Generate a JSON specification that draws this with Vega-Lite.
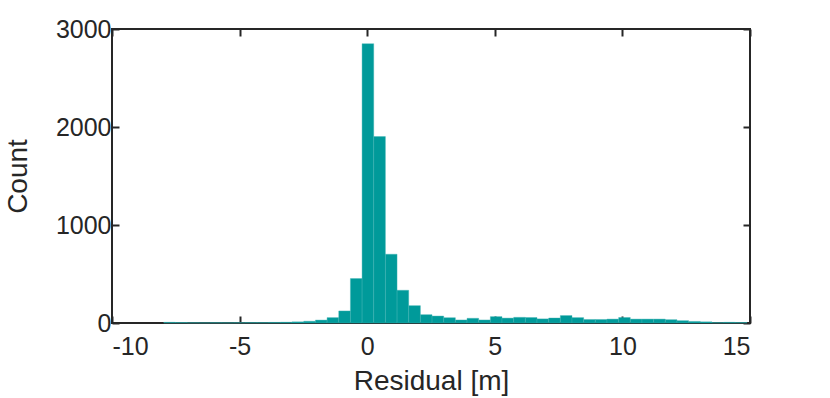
{
  "$schema": "https://vega.github.io/schema/vega-lite/v6.json",
  "width": 638,
  "height": 294,
  "autosize": {"type": "none"},
  "padding": {"left": 112, "top": 29, "right": 80, "bottom": 75},
  "background": "white",
  "config": {
    "view": {"stroke": "#262626", "strokeWidth": 2},
    "axis": {
      "labelFont": "Liberation Sans",
      "titleFont": "Liberation Sans",
      "labelFontSize": 25,
      "titleFontSize": 28,
      "labelColor": "#262626",
      "titleColor": "#262626",
      "titleFontWeight": "normal",
      "grid": false,
      "domain": false,
      "tickColor": "#262626",
      "tickWidth": 2,
      "tickSize": -7,
      "labelExpr": "'' + datum.value"
    }
  },
  "data": {
    "values": [
      {"x0": -7.970, "x1": -7.513, "count": 7},
      {"x0": -7.513, "x1": -7.056, "count": 5},
      {"x0": -7.056, "x1": -6.599, "count": 3},
      {"x0": -6.599, "x1": -6.142, "count": 2},
      {"x0": -6.142, "x1": -5.685, "count": 3},
      {"x0": -5.685, "x1": -5.228, "count": 2},
      {"x0": -5.228, "x1": -4.771, "count": 3},
      {"x0": -4.771, "x1": -4.314, "count": 4},
      {"x0": -4.314, "x1": -3.857, "count": 4},
      {"x0": -3.857, "x1": -3.400, "count": 6},
      {"x0": -3.400, "x1": -2.943, "count": 8},
      {"x0": -2.943, "x1": -2.486, "count": 12},
      {"x0": -2.486, "x1": -2.029, "count": 18},
      {"x0": -2.029, "x1": -1.572, "count": 30},
      {"x0": -1.572, "x1": -1.115, "count": 55},
      {"x0": -1.115, "x1": -0.658, "count": 123},
      {"x0": -0.658, "x1": -0.201, "count": 454},
      {"x0": -0.201, "x1": 0.256, "count": 2850},
      {"x0": 0.256, "x1": 0.713, "count": 1902},
      {"x0": 0.713, "x1": 1.170, "count": 702},
      {"x0": 1.170, "x1": 1.627, "count": 334},
      {"x0": 1.627, "x1": 2.084, "count": 177},
      {"x0": 2.084, "x1": 2.541, "count": 85},
      {"x0": 2.541, "x1": 2.998, "count": 71},
      {"x0": 2.998, "x1": 3.455, "count": 54},
      {"x0": 3.455, "x1": 3.912, "count": 31},
      {"x0": 3.912, "x1": 4.369, "count": 48},
      {"x0": 4.369, "x1": 4.826, "count": 31},
      {"x0": 4.826, "x1": 5.283, "count": 65},
      {"x0": 5.283, "x1": 5.740, "count": 50},
      {"x0": 5.740, "x1": 6.197, "count": 58},
      {"x0": 6.197, "x1": 6.654, "count": 56},
      {"x0": 6.654, "x1": 7.111, "count": 42},
      {"x0": 7.111, "x1": 7.568, "count": 51},
      {"x0": 7.568, "x1": 8.025, "count": 76},
      {"x0": 8.025, "x1": 8.482, "count": 55},
      {"x0": 8.482, "x1": 8.939, "count": 36},
      {"x0": 8.939, "x1": 9.396, "count": 36},
      {"x0": 9.396, "x1": 9.853, "count": 40},
      {"x0": 9.853, "x1": 10.310, "count": 56},
      {"x0": 10.310, "x1": 10.767, "count": 40},
      {"x0": 10.767, "x1": 11.224, "count": 40},
      {"x0": 11.224, "x1": 11.681, "count": 40},
      {"x0": 11.681, "x1": 12.138, "count": 34},
      {"x0": 12.138, "x1": 12.595, "count": 24},
      {"x0": 12.595, "x1": 13.052, "count": 16},
      {"x0": 13.052, "x1": 13.509, "count": 12},
      {"x0": 13.509, "x1": 13.966, "count": 4},
      {"x0": 13.966, "x1": 14.423, "count": 7},
      {"x0": 14.423, "x1": 14.880, "count": 5}
    ]
  },
  "layer": [
    {
      "mark": {"type": "rect", "fill": "#009a9a", "stroke": "#3fb2b2", "strokeWidth": 0.4},
      "encoding": {
        "x": {"field": "x0", "type": "quantitative",
              "scale": {"domain": [-10, 15], "nice": false, "zero": false},
              "axis": {"orient": "bottom", "values": [-10, -5, 0, 5, 10, 15], "title": "Residual [m]", "labelPadding": 18, "titlePadding": 8}},
        "x2": {"field": "x1"},
        "y": {"field": "count", "type": "quantitative",
              "scale": {"domain": [0, 3000], "nice": false},
              "axis": {"orient": "left", "values": [0, 1000, 2000, 3000], "title": "Count", "labelPadding": 8, "titlePadding": 23}},
        "y2": {"datum": 0}
      }
    },
    {
      "mark": {"type": "rect", "opacity": 0},
      "encoding": {
        "x": {"field": "x0", "type": "quantitative",
              "axis": {"orient": "top", "values": [-10, -5, 0, 5, 10, 15], "labels": false, "title": null}},
        "x2": {"field": "x1"},
        "y": {"field": "count", "type": "quantitative",
              "axis": {"orient": "right", "values": [0, 1000, 2000, 3000], "labels": false, "title": null}},
        "y2": {"datum": 0}
      }
    }
  ],
  "resolve": {"axis": {"x": "independent", "y": "independent"}}
}
